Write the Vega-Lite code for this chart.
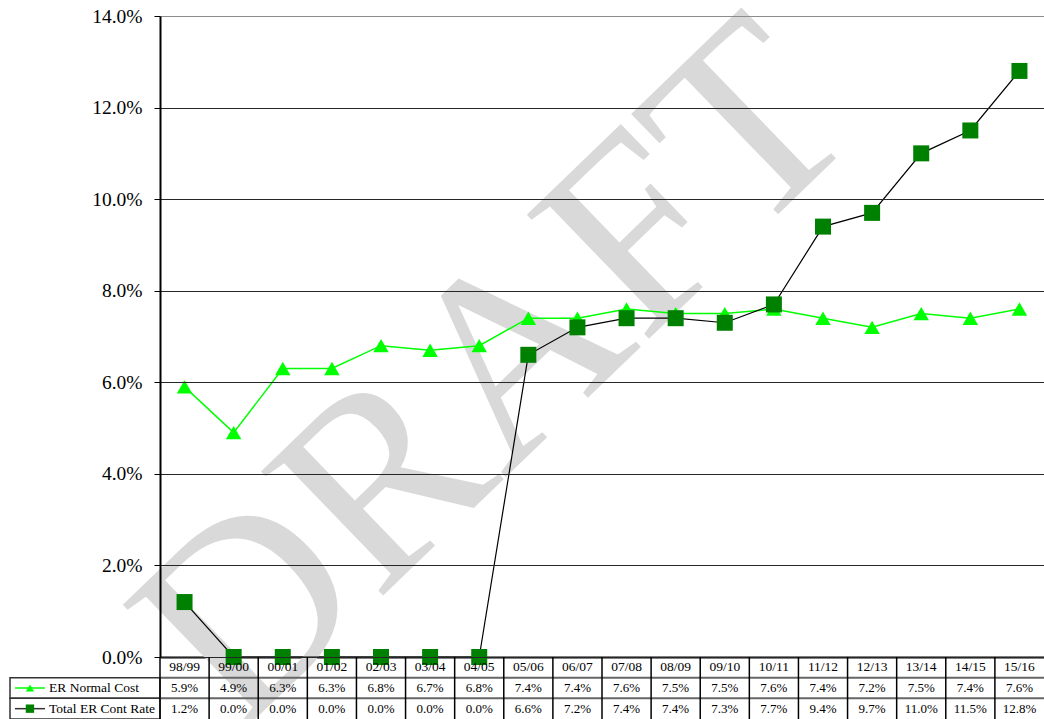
{
  "$schema": "https://vega.github.io/schema/vega-lite/v6.json",
  "autosize": {"type": "none"},
  "padding": {"left": 10, "top": 16, "right": 1034, "bottom": 703},
  "background": "white",
  "config": {
    "view": {"stroke": null},
    "font": "Liberation Serif"
  },
  "datasets": {
    "rates": [
      {"period": "98/99", "series": "ER Normal Cost", "rate": 0.059},
      {"period": "99/00", "series": "ER Normal Cost", "rate": 0.049},
      {"period": "00/01", "series": "ER Normal Cost", "rate": 0.063},
      {"period": "01/02", "series": "ER Normal Cost", "rate": 0.063},
      {"period": "02/03", "series": "ER Normal Cost", "rate": 0.068},
      {"period": "03/04", "series": "ER Normal Cost", "rate": 0.067},
      {"period": "04/05", "series": "ER Normal Cost", "rate": 0.068},
      {"period": "05/06", "series": "ER Normal Cost", "rate": 0.074},
      {"period": "06/07", "series": "ER Normal Cost", "rate": 0.074},
      {"period": "07/08", "series": "ER Normal Cost", "rate": 0.076},
      {"period": "08/09", "series": "ER Normal Cost", "rate": 0.075},
      {"period": "09/10", "series": "ER Normal Cost", "rate": 0.075},
      {"period": "10/11", "series": "ER Normal Cost", "rate": 0.076},
      {"period": "11/12", "series": "ER Normal Cost", "rate": 0.074},
      {"period": "12/13", "series": "ER Normal Cost", "rate": 0.072},
      {"period": "13/14", "series": "ER Normal Cost", "rate": 0.075},
      {"period": "14/15", "series": "ER Normal Cost", "rate": 0.074},
      {"period": "15/16", "series": "ER Normal Cost", "rate": 0.076},
      {"period": "98/99", "series": "Total ER Cont Rate", "rate": 0.012},
      {"period": "99/00", "series": "Total ER Cont Rate", "rate": 0.0},
      {"period": "00/01", "series": "Total ER Cont Rate", "rate": 0.0},
      {"period": "01/02", "series": "Total ER Cont Rate", "rate": 0.0},
      {"period": "02/03", "series": "Total ER Cont Rate", "rate": 0.0},
      {"period": "03/04", "series": "Total ER Cont Rate", "rate": 0.0},
      {"period": "04/05", "series": "Total ER Cont Rate", "rate": 0.0},
      {"period": "05/06", "series": "Total ER Cont Rate", "rate": 0.066},
      {"period": "06/07", "series": "Total ER Cont Rate", "rate": 0.072},
      {"period": "07/08", "series": "Total ER Cont Rate", "rate": 0.074},
      {"period": "08/09", "series": "Total ER Cont Rate", "rate": 0.074},
      {"period": "09/10", "series": "Total ER Cont Rate", "rate": 0.073},
      {"period": "10/11", "series": "Total ER Cont Rate", "rate": 0.077},
      {"period": "11/12", "series": "Total ER Cont Rate", "rate": 0.094},
      {"period": "12/13", "series": "Total ER Cont Rate", "rate": 0.097},
      {"period": "13/14", "series": "Total ER Cont Rate", "rate": 0.110},
      {"period": "14/15", "series": "Total ER Cont Rate", "rate": 0.115},
      {"period": "15/16", "series": "Total ER Cont Rate", "rate": 0.128}
    ],
    "seriesNames": [
      {"series": "ER Normal Cost"},
      {"series": "Total ER Cont Rate"}
    ],
    "watermark": [
      {"label": "DRAFT"}
    ]
  },
  "concat": [
    {
      "width": 150,
      "height": 641,
      "data": {"name": "seriesNames"},
      "mark": {"type": "text", "opacity": 0},
      "encoding": {"text": {"value": ""}}
    },
    {
      "width": 884,
      "height": 641,
      "layer": [
        {
          "data": {"name": "watermark"},
          "mark": {"type": "text", "fontSize": 266, "font": "Liberation Serif", "color": "#d9d9d9", "angle": -44, "align": "center", "baseline": "middle", "dx": 18, "dy": 6},
          "encoding": {
            "x": {"datum": "04/05", "type": "ordinal", "scale": {"type": "point", "padding": 0.5, "domain": ["98/99", "99/00", "00/01", "01/02", "02/03", "03/04", "04/05", "05/06", "06/07", "07/08", "08/09", "09/10", "10/11", "11/12", "12/13", "13/14", "14/15", "15/16"]}},
            "y": {"datum": 0.0598, "type": "quantitative", "scale": {"domain": [0, 0.14], "nice": false}},
            "text": {"field": "label", "type": "nominal"}
          }
        },
        {
          "data": {"name": "rates"},
          "encoding": {
            "x": {
              "field": "period",
              "type": "ordinal",
              "axis": {"title": null, "labels": false, "ticks": false, "grid": false, "domainColor": "#000", "domainWidth": 2}
            },
            "y": {
              "field": "rate",
              "type": "quantitative",
              "axis": {
                "title": null,
                "values": [0, 0.02, 0.04, 0.06, 0.08, 0.1, 0.12, 0.14],
                "format": ".1%",
                "labelFont": "Liberation Serif",
                "labelFontSize": 19.5,
                "labelColor": "#000",
                "labelPadding": 12,
                "tickColor": "#000",
                "tickSize": 6,
                "tickWidth": 1,
                "domainColor": "#000",
                "domainWidth": 2,
                "grid": true,
                "gridColor": {"condition": {"test": "datum.value >= 0.14", "value": "#8c8c8c"}, "value": "#262626"},
                "gridWidth": 1,
                "gridOpacity": 1,
                "zindex": 1
              }
            }
          },
          "layer": [
            {
              "transform": [{"filter": "datum.series === 'ER Normal Cost'"}],
              "mark": {"type": "line", "color": "#00ff00", "strokeWidth": 1.5}
            },
            {
              "transform": [{"filter": "datum.series === 'ER Normal Cost'"}],
              "mark": {"type": "point", "shape": "triangle-up", "filled": true, "size": 240, "color": "#00ff00", "opacity": 1}
            },
            {
              "transform": [{"filter": "datum.series === 'Total ER Cont Rate'"}],
              "mark": {"type": "line", "color": "#000000", "strokeWidth": 1.2}
            },
            {
              "transform": [{"filter": "datum.series === 'Total ER Cont Rate'"}],
              "mark": {"type": "point", "shape": "square", "filled": true, "size": 256, "color": "#008000", "opacity": 1}
            }
          ]
        }
      ]
    },
    {
      "width": 150,
      "height": 62,
      "data": {"name": "seriesNames"},
      "encoding": {
        "y": {
          "field": "series",
          "type": "nominal",
          "scale": {"domain": ["hdr", "ER Normal Cost", "Total ER Cont Rate"], "paddingInner": 0, "paddingOuter": 0},
          "axis": null
        }
      },
      "layer": [
        {
          "mark": {"type": "rect", "filled": false, "color": "#333333", "strokeWidth": 1.5},
          "encoding": {
            "x": {"datum": 0, "type": "quantitative", "scale": {"domain": [0, 1], "nice": false}, "axis": null},
            "x2": {"datum": 1}
          }
        },
        {
          "transform": [{"filter": "datum.series === 'ER Normal Cost'"}],
          "mark": {"type": "rule", "color": "#00ff00", "strokeWidth": 1.5},
          "encoding": {"x": {"datum": 0.033, "type": "quantitative"}, "x2": {"datum": 0.233}}
        },
        {
          "transform": [{"filter": "datum.series === 'ER Normal Cost'"}],
          "mark": {"type": "point", "shape": "triangle-up", "filled": true, "size": 70, "color": "#00ff00", "opacity": 1},
          "encoding": {"x": {"datum": 0.133, "type": "quantitative"}}
        },
        {
          "transform": [{"filter": "datum.series === 'Total ER Cont Rate'"}],
          "mark": {"type": "rule", "color": "#333333", "strokeWidth": 1.5},
          "encoding": {"x": {"datum": 0.033, "type": "quantitative"}, "x2": {"datum": 0.233}}
        },
        {
          "transform": [{"filter": "datum.series === 'Total ER Cont Rate'"}],
          "mark": {"type": "point", "shape": "square", "filled": true, "size": 70, "color": "#008000", "opacity": 1},
          "encoding": {"x": {"datum": 0.133, "type": "quantitative"}}
        },
        {
          "mark": {"type": "text", "align": "left", "baseline": "middle", "fontSize": 13.5, "color": "#000"},
          "encoding": {"x": {"datum": 0.26, "type": "quantitative"}, "text": {"field": "series"}}
        }
      ]
    },
    {
      "width": 884,
      "height": 62,
      "data": {"name": "rates"},
      "encoding": {
        "x": {
          "field": "period",
          "type": "ordinal",
          "scale": {
            "type": "band",
            "paddingInner": 0,
            "paddingOuter": 0,
            "domain": ["98/99", "99/00", "00/01", "01/02", "02/03", "03/04", "04/05", "05/06", "06/07", "07/08", "08/09", "09/10", "10/11", "11/12", "12/13", "13/14", "14/15", "15/16"]
          },
          "axis": null
        },
        "y": {
          "field": "series",
          "type": "nominal",
          "scale": {"domain": ["hdr", "ER Normal Cost", "Total ER Cont Rate"], "paddingInner": 0, "paddingOuter": 0},
          "axis": null
        }
      },
      "layer": [
        {
          "data": {"name": "seriesNames"},
          "mark": {"type": "rule", "color": "#666666", "strokeWidth": 2},
          "encoding": {"x": null, "y": {"field": "series", "type": "nominal", "bandPosition": 0}}
        },
        {
          "transform": [{"filter": "datum.series === 'ER Normal Cost'"}],
          "mark": {"type": "rule", "color": "#000000", "strokeWidth": 1.5},
          "encoding": {"x": {"field": "period", "type": "ordinal", "bandPosition": 0}, "y": null}
        },
        {
          "transform": [{"filter": "datum.series === 'ER Normal Cost'"}],
          "mark": {"type": "text", "baseline": "middle", "fontSize": 13.5, "color": "#000"},
          "encoding": {"y": {"datum": "hdr", "type": "nominal"}, "text": {"field": "period"}}
        },
        {
          "mark": {"type": "text", "baseline": "middle", "fontSize": 13, "color": "#000"},
          "encoding": {"text": {"field": "rate", "format": ".1%"}}
        }
      ]
    }
  ],
  "columns": 2,
  "spacing": 0,
  "bounds": "flush",
  "align": "each",
  "resolve": {"scale": {"x": "independent", "y": "independent"}}
}
